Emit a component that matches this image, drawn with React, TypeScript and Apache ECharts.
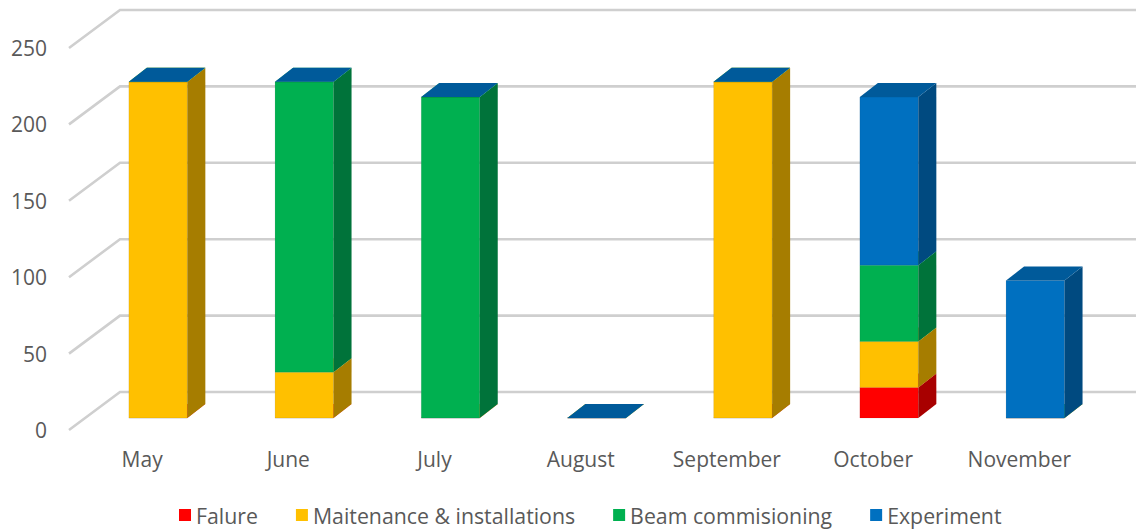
import React, { useEffect, useRef } from "react";
import * as echarts from "echarts";

const categories = ["May", "June", "July", "August", "September", "October", "November"];
const seriesNames = ["Falure", "Maitenance & installations", "Beam commisioning", "Experiment"];
const failure = [0, 0, 0, 0, 0, 20, 0];
const maintenance = [220, 30, 0, 0, 220, 30, 0];
const beam = [0, 190, 210, 0, 0, 50, 0];
const experiment = [0, 0, 0, 0, 0, 110, 90];
const yTicks = [0, 50, 100, 150, 200, 250];

const frontColors = ["#FF0000", "#FFC000", "#00B050", "#0070C0"];
const sideColors = ["#A80000", "#A67D00", "#00733A", "#004A80"];
const topColors = ["#FF4040", "#FFD040", "#30C070", "#005A9A"];

const DX = 18;
const DY = -14;
const FONT = "'Open Sans', sans-serif";

export default function App() {
  const ref = useRef<HTMLDivElement>(null);
  useEffect(() => {
    document.body.style.margin = "0";
    if (!ref.current) return;
    const chart = echarts.init(ref.current, undefined, { renderer: "svg" });
    const values = [failure, maintenance, beam, experiment];
    const bases = categories.map(() => 0);
    const barSeries = values.map((vals, si) => {
      const data = categories.map((_, i) => {
        const b = bases[i];
        const t = b + vals[i];
        bases[i] = t;
        return [i, b, t];
      });
      return {
        type: "custom",
        name: seriesNames[si],
        xAxisIndex: 0,
        yAxisIndex: 0,
        itemStyle: { color: frontColors[si] },
        z: 3 + si,
        data,
        renderItem: (params: any, api: any) => {
          const x = api.value(0);
          const b = api.coord([x, api.value(1)]);
          const t = api.coord([x, api.value(2)]);
          const band = api.size([1, 0])[0];
          const w = band * 0.4;
          const x0 = b[0] - w / 2;
          const x1 = b[0] + w / 2;
          const yb = b[1];
          const yt = t[1];
          return {
            type: "group",
            children: [
              {
                type: "polygon",
                shape: { points: [[x0, yt], [x1, yt], [x1, yb], [x0, yb]] },
                style: { fill: frontColors[si], stroke: "rgba(0,0,0,0.12)", lineWidth: 0.6 },
              },
              {
                type: "polygon",
                shape: { points: [[x1, yt], [x1 + DX, yt + DY], [x1 + DX, yb + DY], [x1, yb]] },
                style: { fill: sideColors[si] },
              },
              {
                type: "polygon",
                shape: { points: [[x0, yt], [x0 + DX, yt + DY], [x1 + DX, yt + DY], [x1, yt]] },
                style: { fill: topColors[si] },
              },
            ],
          };
        },
      };
    });

    const gridSeries = {
      type: "custom",
      name: "grid",
      xAxisIndex: 0,
      yAxisIndex: 0,
      z: 1,
      silent: true,
      data: yTicks.map((v) => [0, v]),
      renderItem: (params: any, api: any) => {
        const p = api.coord([0, api.value(1)]);
        const left = params.coordSys.x;
        const py = p[1];
        return {
          type: "polyline",
          shape: { points: [[left - 16, py + 12], [left + 35, py - 26], [1136, py - 26]] },
          style: { stroke: "#CFCFCF", lineWidth: 2.6, fill: "none" },
        };
      },
    };

    chart.setOption({
      animation: false,
      grid: [
        { left: 85, top: 36, width: 1023.4, height: 382 },
        { left: 69, top: 48, width: 1023.4, height: 382 },
      ],
      xAxis: [
        { type: "category", gridIndex: 0, data: categories, show: false },
        {
          type: "category",
          gridIndex: 1,
          data: categories,
          axisLine: { show: false },
          axisTick: { show: false },
          axisLabel: { color: "#595959", fontSize: 21, fontFamily: FONT, margin: 18 },
        },
      ],
      yAxis: [
        { type: "value", gridIndex: 0, min: 0, max: 250, interval: 50, show: false },
        {
          type: "value",
          gridIndex: 1,
          min: 0,
          max: 250,
          interval: 50,
          axisLine: { show: false },
          axisTick: { show: false },
          splitLine: { show: false },
          axisLabel: { color: "#595959", fontSize: 21, fontFamily: FONT, margin: 22 },
        },
      ],
      legend: {
        data: seriesNames.map((n, i) => ({ name: n, itemStyle: { color: frontColors[i] } })),
        left: 179,
        top: 503,
        padding: 0,
        icon: "rect",
        itemWidth: 12,
        itemHeight: 12,
        itemGap: 38,
        textStyle: { color: "#595959", fontSize: 21.3, fontFamily: FONT, lineHeight: 24 },
      },
      series: [gridSeries, ...barSeries],
    });
    return () => chart.dispose();
  }, []);
  return <div ref={ref} style={{ width: 1136, height: 529 }} />;
}
